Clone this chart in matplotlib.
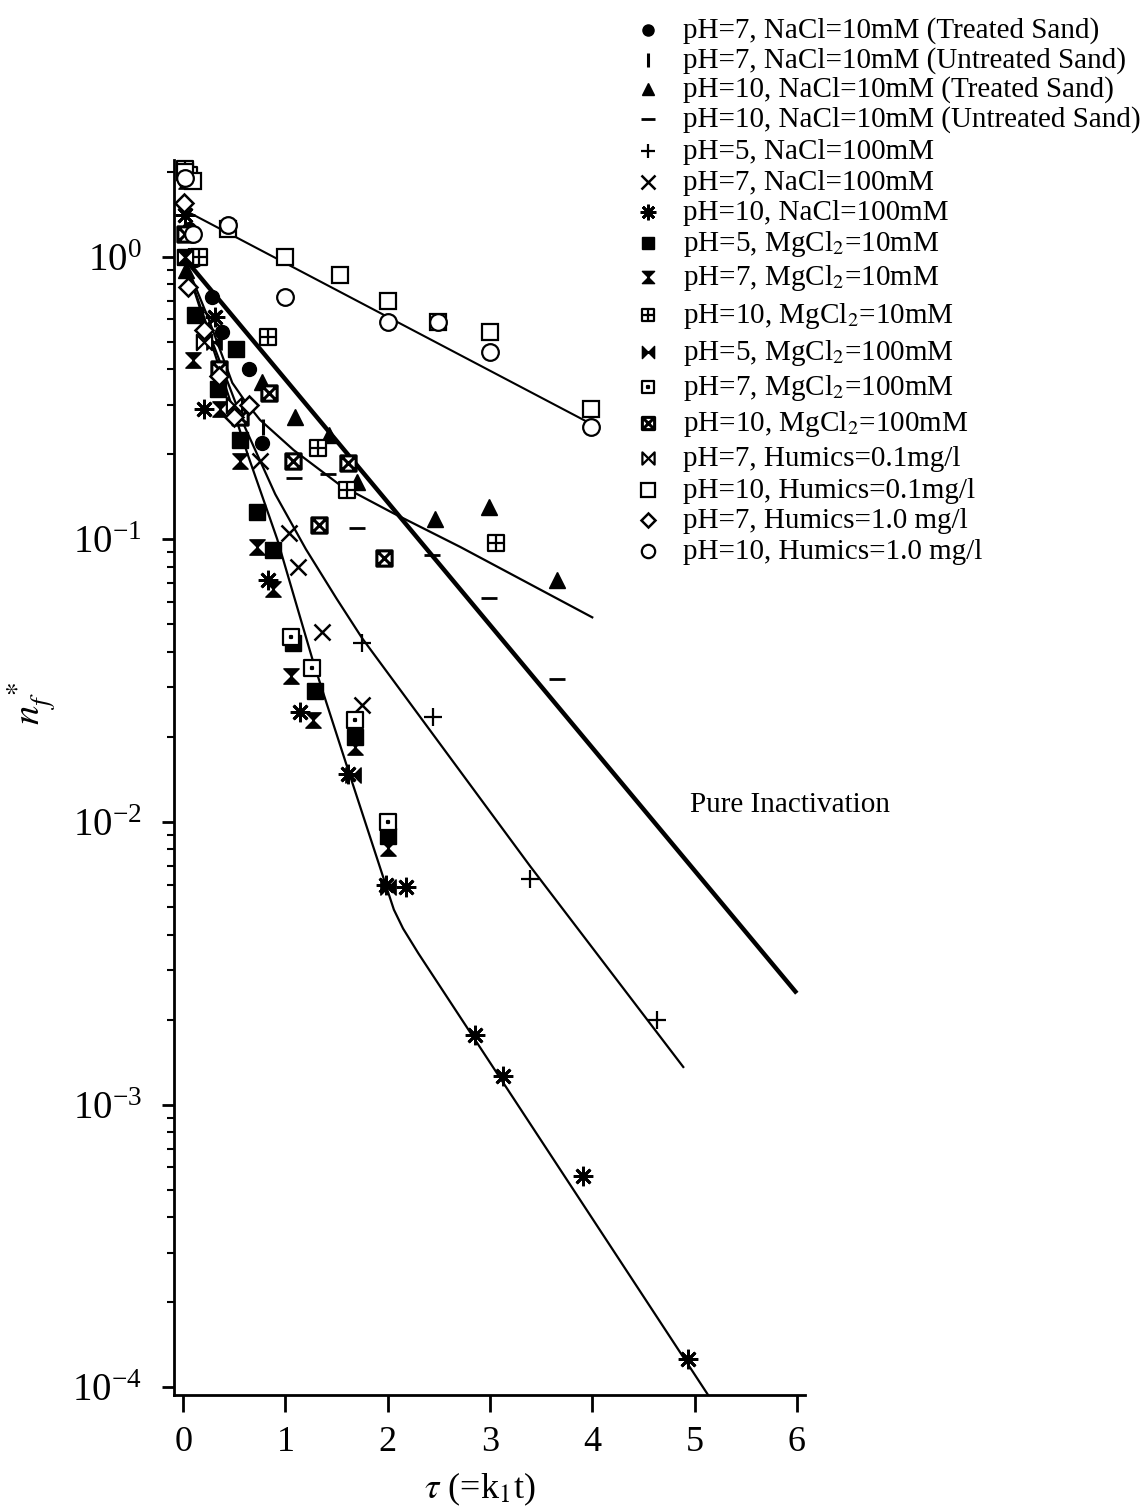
import matplotlib
matplotlib.use("Agg")
import matplotlib.pyplot as plt
from matplotlib.path import Path
from matplotlib.ticker import FixedLocator, LogLocator, LogFormatterSciNotation, NullFormatter

plt.rcParams['font.family'] = ['Liberation Serif', 'DejaVu Serif']
plt.rcParams['mathtext.fontset'] = 'stix'

# ---------------- measured data (tau, n_f*) ----------------
nacl10_ph7_treated_x = [0.02, 0.06, 0.12, 0.28, 0.38, 0.64, 0.77]
nacl10_ph7_treated_y = [1.85, 1.25, 0.97, 0.72, 0.54, 0.40, 0.22]

nacl10_ph7_untreated_x = [0.05, 0.78]
nacl10_ph7_untreated_y = [1.0, 0.25]

nacl10_ph10_treated_x = [0.03, 0.77, 1.09, 1.43, 1.70, 2.46, 2.99, 3.66]
nacl10_ph10_treated_y = [0.9, 0.36, 0.27, 0.235, 0.16, 0.118, 0.13, 0.072]

nacl10_ph10_untreated_x = [1.08, 1.42, 1.70, 2.43, 2.99, 3.66]
nacl10_ph10_untreated_y = [0.165, 0.17, 0.11, 0.088, 0.062, 0.032]

nacl100_ph5_x = [0.06, 1.75, 2.44, 3.39, 4.63]
nacl100_ph5_y = [1.0, 0.043, 0.0236, 0.0063, 0.0020]

nacl100_ph7_x = [0.28, 0.75, 1.03, 1.12, 1.36, 1.75]
nacl100_ph7_y = [0.60, 0.19, 0.105, 0.080, 0.047, 0.026]

nacl100_ph10_x = [0.02, 0.20, 0.31, 0.83, 1.14, 1.61, 1.98, 2.18, 2.85, 3.13, 3.91, 4.94]
nacl100_ph10_y = [1.40, 0.29, 0.61, 0.072, 0.0245, 0.0148, 0.0060, 0.0059,
                  0.00177, 0.00126, 0.00056, 0.000126]

mg10_ph5_x = [0.03, 0.12, 0.34, 0.52, 0.56, 0.72, 0.88, 1.07, 1.29, 1.68, 2.0]
mg10_ph5_y = [1.0, 0.62, 0.34, 0.47, 0.225, 0.125, 0.092, 0.043, 0.029, 0.020, 0.0089]

mg10_ph7_x = [0.03, 0.10, 0.36, 0.56, 0.72, 0.88, 1.05, 1.27, 1.68, 2.0]
mg10_ph7_y = [1.85, 0.43, 0.29, 0.19, 0.094, 0.067, 0.033, 0.023, 0.0185, 0.0081]

mg10_ph10_x = [0.02, 0.15, 0.83, 1.32, 1.60, 3.06]
mg10_ph10_y = [2.05, 1.0, 0.52, 0.21, 0.15, 0.097]

mg100_ph5_x = [0.05, 0.30, 1.66, 2.0]
mg100_ph5_y = [1.2, 0.50, 0.0147, 0.0059]

mg100_ph7_x = [0.06, 1.05, 1.26, 1.68, 2.0]
mg100_ph7_y = [1.95, 0.045, 0.035, 0.023, 0.010]

mg100_ph10_x = [0.02, 0.35, 0.56, 0.84, 1.07, 1.33, 1.61, 1.96]
mg100_ph10_y = [1.2, 0.40, 0.27, 0.33, 0.19, 0.112, 0.187, 0.086]

hum01_ph7_x = [0.02, 0.20, 0.50]
hum01_ph7_y = [1.0, 0.50, 0.30]

hum01_ph10_x = [0.02, 0.10, 0.44, 1.0, 1.53, 2.0, 2.49, 3.0, 3.99]
hum01_ph10_y = [2.0, 1.85, 1.25, 1.0, 0.86, 0.70, 0.59, 0.54, 0.29]

hum10_ph7_x = [0.01, 0.05, 0.20, 0.35, 0.50, 0.64]
hum10_ph7_y = [1.55, 0.78, 0.55, 0.38, 0.27, 0.30]

hum10_ph10_x = [0.02, 0.10, 0.44, 1.0, 2.0, 2.49, 3.0, 3.99]
hum10_ph10_y = [1.9, 1.2, 1.3, 0.72, 0.59, 0.59, 0.46, 0.25]

# ---------------- model curves ----------------
pure_x = [0.0, 6.0]
pure_y = [1.0, 0.00248]

humics_fit_x = [0.0, 4.0]
humics_fit_y = [1.47, 0.255]

curve_a_x = [0.0, 0.25, 0.48, 0.60, 0.75, 1.08, 1.53, 2.05, 2.71, 4.0]
curve_a_y = [1.0, 0.60, 0.358, 0.31, 0.265, 0.207, 0.156, 0.124, 0.094, 0.053]

curve_b_x = [0.0, 0.30, 0.60, 0.90, 1.20, 1.50, 1.75, 3.39, 4.89]
curve_b_y = [1.0, 0.484, 0.251, 0.1445, 0.0923, 0.0617, 0.0447, 0.0070, 0.00136]

curve_c_x = [0.0, 0.63, 0.92, 1.27, 1.60, 1.98, 2.06, 2.15, 2.30, 5.25]
curve_c_y = [1.0, 0.20, 0.10, 0.037, 0.0158, 0.0060, 0.0049, 0.0042, 0.00343, 0.0000810]

labels = [
    'pH=7, NaCl=10mM (Treated Sand)',
    'pH=7, NaCl=10mM (Untreated Sand)',
    'pH=10, NaCl=10mM (Treated Sand)',
    'pH=10, NaCl=10mM (Untreated Sand)',
    'pH=5, NaCl=100mM',
    'pH=7, NaCl=100mM',
    'pH=10, NaCl=100mM',
    'pH=5, MgCl$_2$=10mM',
    'pH=7, MgCl$_2$=10mM',
    'pH=10, MgCl$_2$=10mM',
    'pH=5, MgCl$_2$=100mM',
    'pH=7, MgCl$_2$=100mM',
    'pH=10, MgCl$_2$=100mM',
    'pH=7, Humics=0.1mg/l',
    'pH=10, Humics=0.1mg/l',
    'pH=7, Humics=1.0 mg/l',
    'pH=10, Humics=1.0 mg/l',
]

# ---------------- custom marker shapes ----------------
M, L, C = Path.MOVETO, Path.LINETO, Path.CLOSEPOLY

hourglass = Path([(-1, 1), (1, 1), (0, 0), (-1, 1),
                  (-1, -1), (1, -1), (0, 0), (-1, -1)],
                 [M, L, L, C, M, L, L, C])
bowtie = Path([(-1, 1), (-1, -1), (0, 0), (-1, 1),
               (1, 1), (1, -1), (0, 0), (1, 1)],
              [M, L, L, C, M, L, L, C])
sq = [(-1, -1), (1, -1), (1, 1), (-1, 1), (-1, -1)]
sq_codes = [M, L, L, L, C]
box_plus = Path(sq + [(0, -1), (0, 1), (-1, 0), (1, 0)],
                sq_codes + [M, L, M, L])
box_x = Path(sq + [(-1, -1), (1, 1), (-1, 1), (1, -1)],
             sq_codes + [M, L, M, L])
d = 0.12
box_dot = Path(sq + [(-d, -d), (d, -d), (d, d), (-d, d), (-d, -d)],
               sq_codes + [M, L, L, L, C])

K = 'black'
W = 'white'
styles = [
    dict(marker='o', mfc=K, mec=K, ms=10, mew=1),
    dict(marker='|', mfc=K, mec=K, ms=12, mew=2.2),
    dict(marker='^', mfc=K, mec=K, ms=11, mew=1),
    dict(marker='_', mfc=K, mec=K, ms=12, mew=2.0),
    dict(marker='+', mfc=K, mec=K, ms=13, mew=1.6),
    dict(marker='x', mfc=K, mec=K, ms=12, mew=1.8),
    dict(marker=(8, 2, 0), mfc=K, mec=K, ms=14, mew=2.0),
    dict(marker='s', mfc=K, mec=K, ms=11, mew=1),
    dict(marker=hourglass, mfc=K, mec=K, ms=11, mew=1),
    dict(marker=box_plus, mfc=W, mec=K, ms=11, mew=1.6),
    dict(marker=bowtie, mfc=K, mec=K, ms=11, mew=1),
    dict(marker=box_dot, mfc=W, mec=K, ms=11, mew=1.6),
    dict(marker=box_x, mfc=W, mec=K, ms=11, mew=2.2),
    dict(marker=bowtie, mfc=W, mec=K, ms=11, mew=1.6),
    dict(marker='s', mfc=W, mec=K, ms=12, mew=1.6),
    dict(marker='D', mfc=W, mec=K, ms=9, mew=1.8),
    dict(marker='o', mfc=W, mec=K, ms=12, mew=1.6),
]

series = [
    (nacl10_ph7_treated_x, nacl10_ph7_treated_y),
    (nacl10_ph7_untreated_x, nacl10_ph7_untreated_y),
    (nacl10_ph10_treated_x, nacl10_ph10_treated_y),
    (nacl10_ph10_untreated_x, nacl10_ph10_untreated_y),
    (nacl100_ph5_x, nacl100_ph5_y),
    (nacl100_ph7_x, nacl100_ph7_y),
    (nacl100_ph10_x, nacl100_ph10_y),
    (mg10_ph5_x, mg10_ph5_y),
    (mg10_ph7_x, mg10_ph7_y),
    (mg10_ph10_x, mg10_ph10_y),
    (mg100_ph5_x, mg100_ph5_y),
    (mg100_ph7_x, mg100_ph7_y),
    (mg100_ph10_x, mg100_ph10_y),
    (hum01_ph7_x, hum01_ph7_y),
    (hum01_ph10_x, hum01_ph10_y),
    (hum10_ph7_x, hum10_ph7_y),
    (hum10_ph10_x, hum10_ph10_y),
]

# ---------------- figure ----------------
W_PX, H_PX = 1141, 1506
fig = plt.figure(figsize=(W_PX / 100, H_PX / 100), dpi=100)
ax = fig.add_axes([0.1525, 0.0737, 0.553, 0.8201])
ax.set_yscale('log')
ax.set_xlim(-0.09, 6.08)
ax.set_ylim(9.4e-5, 2.2)

# model curves
ax.plot(pure_x, pure_y, color=K, lw=3.2, zorder=2, solid_capstyle='butt')
ax.plot(humics_fit_x, humics_fit_y, color=K, lw=1.5, zorder=2)
for cx, cy in [(curve_a_x, curve_a_y), (curve_b_x, curve_b_y), (curve_c_x, curve_c_y)]:
    ax.plot(cx, cy, color=K, lw=1.6, zorder=2, solid_joinstyle='round')

for (sx, sy), st, lab in zip(series, styles, labels):
    ax.plot(sx, sy, linestyle='none', label=lab, zorder=3, clip_on=False, **st)

ax.text(4.96, 0.0115, 'Pure Inactivation', fontsize=21, ha='left', va='center')

# axes styling
for side in ('top', 'right'):
    ax.spines[side].set_visible(False)
for side in ('left', 'bottom'):
    ax.spines[side].set_linewidth(2.0)

ax.xaxis.set_major_locator(FixedLocator([0, 1, 2, 3, 4, 5, 6]))
ax.yaxis.set_major_locator(LogLocator(base=10, numticks=10))
ax.yaxis.set_major_formatter(LogFormatterSciNotation())
ax.yaxis.set_minor_locator(LogLocator(base=10, subs=range(2, 10), numticks=20))
ax.yaxis.set_minor_formatter(NullFormatter())
ax.tick_params(axis='x', which='major', direction='out', length=12, width=2, pad=10, labelsize=26)
ax.tick_params(axis='y', which='major', direction='out', length=9, width=2, pad=14, labelsize=28)
ax.tick_params(axis='y', which='minor', direction='out', length=5, width=1.5)

ax.set_xlabel(r'$\tau$ (=k$_1$t)', fontsize=26)
ax.xaxis.set_label_coords(0.485, -0.061)
ax.set_ylabel(r'$n_f^{\,*}$', fontsize=28)
ax.yaxis.set_label_coords(-0.182, 0.56)

# key: one row per series, laid out in pixel coordinates of the figure
key = fig.add_axes([0, 0, 1, 1], facecolor='none')
key.set_xlim(0, W_PX)
key.set_ylim(H_PX, 0)
key.axis('off')
key_marker_x = 648
key_text_x = 683
key_rows_y = [30, 60, 89, 119, 151, 182, 212, 243, 277, 315, 352, 387, 423, 458, 490, 520, 551]
for st, lab, ry in zip(styles, labels, key_rows_y):
    kst = dict(st)
    kst['ms'] = st['ms'] * 0.8
    key.plot([key_marker_x], [ry], linestyle='none', **kst)
    key.text(key_text_x, ry + 8, lab, fontsize=21, ha='left', va='baseline')

fig.savefig('out.png', dpi=100)
